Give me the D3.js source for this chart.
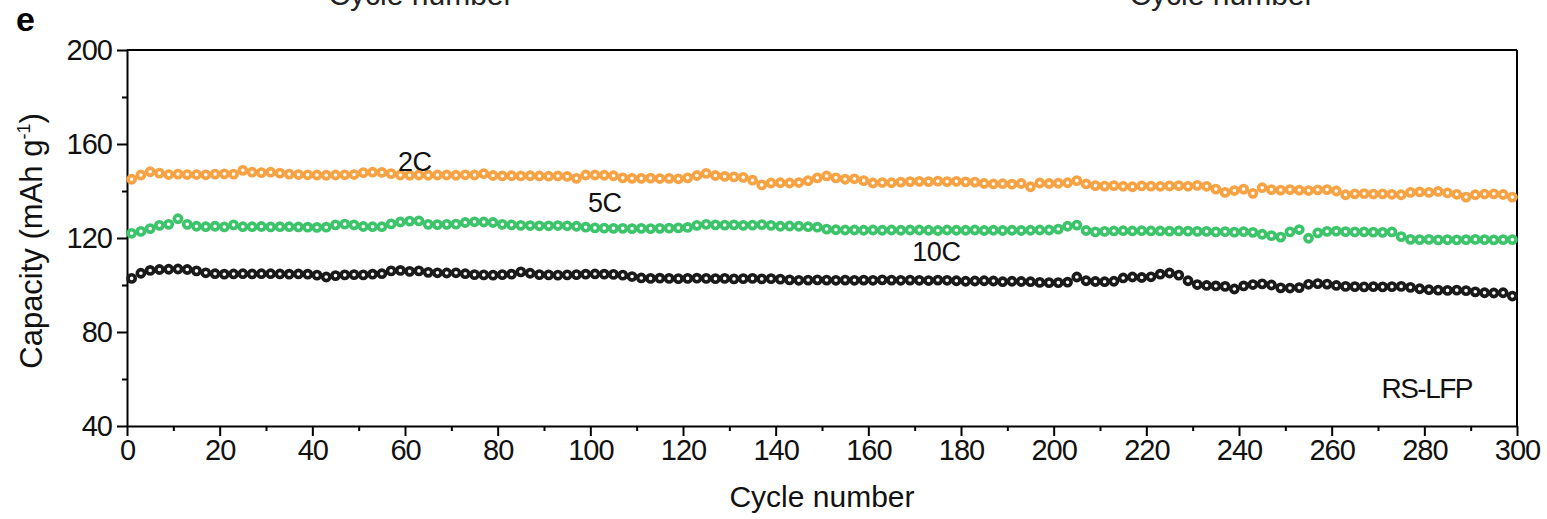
<!DOCTYPE html>
<html>
<head>
<meta charset="utf-8">
<script src="https://cdn.jsdelivr.net/npm/d3@7"></script>
<style>
  html, body { margin: 0; padding: 0; background: #fff; }
  svg { display: block; font-family: "Liberation Sans", Arial, sans-serif; }
</style>
</head>
<body>
<svg id="chart" width="1547" height="519"></svg>
<script>
// Cycle index of every plotted point (one marker every second cycle)
const cycles = d3.range(1, 300, 2);

// Discharge capacity (mAh g-1) of RS-LFP at 2C, 5C and 10C
const cap2C = [
  145.0, 146.8, 148.2, 147.6, 147.0, 147.2, 147.0, 147.0, 146.9, 147.2,
  147.3, 147.2, 148.8, 148.0, 147.8, 148.0, 147.6, 147.2, 147.0, 146.9,
  146.8, 146.7, 146.8, 146.9, 147.0, 147.8, 148.0, 147.9, 147.4, 146.8,
  146.7, 146.8, 146.7, 146.8, 146.8, 146.7, 146.9, 146.8, 147.4, 146.6,
  146.4, 146.5, 146.4, 146.5, 146.4, 146.3, 146.4, 146.2, 145.4, 146.8,
  146.8, 146.7, 146.5, 145.6, 145.4, 145.4, 145.5, 145.3, 145.4, 145.2,
  145.6, 146.6, 147.5, 146.6, 146.2, 146.0, 145.8, 144.6, 142.6, 143.4,
  143.5, 143.4, 143.6, 144.4, 145.6, 146.4, 145.6, 145.0, 145.2, 144.4,
  143.4, 143.6, 143.5, 143.8, 144.0, 144.1, 144.0, 144.2, 144.0, 144.1,
  143.9, 143.8, 143.2, 143.0, 143.1, 142.9, 143.2, 141.8, 143.4, 143.2,
  143.3, 143.5, 144.4, 143.0, 142.3, 142.1, 142.3, 142.0, 141.8, 142.2,
  142.1, 142.0, 142.2, 142.3, 142.0, 142.4, 142.0, 140.8, 139.4, 140.2,
  140.8, 139.0, 141.4, 140.6, 140.4, 140.6, 140.4, 140.2, 140.5, 140.6,
  140.0, 138.4, 138.8, 138.9, 138.7, 138.8, 138.6, 138.4, 139.4, 139.6,
  139.4, 139.8, 139.2, 138.6, 137.4, 138.4, 138.7, 138.8, 138.5, 137.4
];

const cap5C = [
  122.0, 122.8, 124.0, 125.4, 125.8, 128.2, 125.8, 125.0, 124.8, 125.0,
  124.7, 125.6, 124.8, 124.8, 124.9, 124.7, 124.8, 124.8, 124.7, 124.6,
  124.5, 124.6, 125.6, 125.9, 125.6, 124.9, 124.8, 124.8, 126.0, 126.8,
  127.2, 127.3, 125.8, 125.7, 125.8, 125.9, 126.6, 126.9, 126.8, 126.6,
  125.8, 125.6, 125.4, 125.3, 125.2, 125.2, 125.3, 125.2, 125.0, 124.6,
  124.3, 124.2, 124.1, 124.1, 124.0, 124.1, 124.0, 124.1, 124.2, 124.3,
  124.5, 125.4, 125.8, 125.6, 125.5, 125.6, 125.4, 125.5, 125.7, 125.4,
  125.0, 125.1, 125.0, 124.8, 124.6, 123.8, 123.5, 123.4, 123.4, 123.3,
  123.4, 123.3, 123.4, 123.3, 123.4, 123.4, 123.3, 123.2, 123.4, 123.3,
  123.3, 123.4, 123.2, 123.3, 123.2, 123.3, 123.2, 123.3, 123.4, 123.4,
  123.8, 125.0, 125.5, 123.2, 122.6, 122.8, 123.0, 123.1, 123.0, 123.1,
  123.0, 123.0, 122.9, 123.0, 122.9, 122.8, 122.8, 122.6, 122.7, 122.5,
  122.7, 122.4, 121.6, 121.0, 120.4, 122.6, 123.6, 119.9, 122.2, 122.8,
  122.9, 122.7, 122.6, 122.6, 122.5, 122.4, 122.6, 120.6, 119.4, 119.3,
  119.4, 119.2, 119.3, 119.2, 119.3, 119.4, 119.3, 119.2, 119.3, 119.3
];

const cap10C = [
  102.8, 105.0, 106.2, 106.6, 106.7, 106.8, 106.6, 106.0, 105.2, 104.8,
  104.6, 104.7, 104.8, 104.7, 104.8, 104.8, 104.7, 104.6, 104.7, 104.6,
  104.2, 103.4, 104.0, 104.3, 104.4, 104.3, 104.6, 104.8, 106.0, 106.2,
  105.8, 106.0, 105.4, 105.2, 105.1, 105.2, 104.8, 104.4, 104.3, 104.2,
  104.4, 104.6, 105.6, 105.0, 104.4, 104.3, 104.2, 104.3, 104.4, 104.6,
  104.7, 104.6, 104.5, 104.2, 103.6, 103.0, 102.8, 102.9, 102.8, 102.7,
  102.8, 102.9, 102.8, 102.7, 102.8, 102.6, 102.7, 102.8, 102.6, 102.7,
  102.5, 102.2, 102.0, 102.1, 102.2, 102.1, 102.0, 102.1, 102.0, 102.1,
  102.0, 102.2, 102.1, 102.0, 102.1, 102.0, 101.9, 102.1, 102.0, 101.8,
  101.6, 101.7, 101.8, 101.7, 101.4, 101.6, 101.5, 101.4, 101.1, 101.0,
  101.0, 101.2, 103.4, 101.8, 101.5, 101.4, 101.6, 103.0, 103.4, 103.2,
  103.5, 104.6, 105.1, 104.2, 101.8, 100.2, 99.8, 99.6, 99.4, 98.3,
  99.6, 100.2, 100.5, 100.0, 98.8, 98.7, 98.9, 100.3, 100.6, 100.4,
  99.8, 99.4, 99.3, 99.2, 99.3, 99.2, 99.3, 99.4, 99.0, 98.4,
  98.0, 97.8, 97.7, 97.8, 97.6, 97.1, 96.7, 96.6, 96.7, 95.3
];

const seriesNames = ["2C", "5C", "10C"];
const seriesColors = ["#f7a243", "#3cc46a", "#1a1a1a"];
const seriesValues = [cap2C, cap5C, cap10C];

const xTicks = d3.range(0, 301, 20);
const xMinorTicks = d3.range(10, 300, 20);
const yTicks = [40, 80, 120, 160, 200];
const yMinorTicks = [60, 100, 140, 180];

const svg = d3.select("#chart");
const margin = { left: 127, right: 30, top: 50, bottom: 93 };
const W = 1547, H = 519;
const x0 = margin.left, x1 = W - margin.right;
const y0 = H - margin.bottom, y1 = margin.top;

const x = d3.scaleLinear().domain([0, 300]).range([x0, x1]);
const y = d3.scaleLinear().domain([40, 200]).range([y0, y1]);

const axisW = 2;
const fontTick = 29;

// Titles of the panels above, cut off by the top edge
svg.append("text").attr("x", 421).attr("y", 5).attr("text-anchor", "middle")
  .attr("font-size", 30).attr("fill", "#222").text("Cycle number");
svg.append("text").attr("x", 1222).attr("y", 5).attr("text-anchor", "middle")
  .attr("font-size", 30).attr("fill", "#222").text("Cycle number");

// Panel letter
svg.append("text").attr("x", 16).attr("y", 31)
  .attr("font-size", 34).attr("font-weight", "bold").attr("fill", "#000").text("e");

// Frame: top and right edges
svg.append("line").attr("x1", x0).attr("x2", x1).attr("y1", y1).attr("y2", y1)
  .attr("stroke", "#000").attr("stroke-width", axisW);
svg.append("line").attr("x1", x1).attr("x2", x1).attr("y1", y1).attr("y2", y0)
  .attr("stroke", "#000").attr("stroke-width", axisW);

// Bottom axis
const gx = svg.append("g").attr("transform", `translate(0,${y0})`)
  .call(d3.axisBottom(x).tickValues(xTicks).tickSize(10).tickSizeOuter(0).tickPadding(3));
const gxMinor = svg.append("g").attr("transform", `translate(0,${y0})`)
  .call(d3.axisBottom(x).tickValues(xMinorTicks).tickSize(5).tickSizeOuter(0).tickFormat(""));

// Left axis
const gy = svg.append("g").attr("transform", `translate(${x0},0)`)
  .call(d3.axisLeft(y).tickValues(yTicks).tickSize(10).tickSizeOuter(0).tickPadding(5));
const gyMinor = svg.append("g").attr("transform", `translate(${x0},0)`)
  .call(d3.axisLeft(y).tickValues(yMinorTicks).tickSize(5).tickSizeOuter(0).tickFormat(""));

[gx, gxMinor, gy, gyMinor].forEach(g => {
  g.select(".domain").attr("stroke", "#000").attr("stroke-width", axisW);
  g.selectAll(".tick line").attr("stroke", "#000").attr("stroke-width", axisW);
  g.selectAll(".tick text").attr("font-size", fontTick).attr("fill", "#111")
    .attr("font-family", "'Liberation Sans', Arial, sans-serif").attr("letter-spacing", "-1px");
});
gxMinor.select(".domain").remove();
gyMinor.select(".domain").remove();

// Axis titles
svg.append("text").attr("x", (x0 + x1) / 2).attr("y", 507).attr("text-anchor", "middle")
  .attr("font-size", 30).attr("fill", "#111").text("Cycle number");

const yt = svg.append("text")
  .attr("transform", `translate(42,${(y0 + y1) / 2 + 3}) rotate(-90)`)
  .attr("text-anchor", "middle").attr("font-size", 31).attr("fill", "#111");
yt.append("tspan").text("Capacity (mAh g");
yt.append("tspan").attr("font-size", 18).attr("dy", -12).text("-1");
yt.append("tspan").attr("dy", 12).text(")");

// Data markers
seriesValues.forEach((vals, si) => {
  svg.append("g").selectAll("circle")
    .data(vals.map((v, i) => ({ c: cycles[i], v })))
    .join("circle")
    .attr("cx", d => x(d.c))
    .attr("cy", d => y(d.v))
    .attr("r", 3.6)
    .attr("fill", "#fff")
    .attr("stroke", seriesColors[si])
    .attr("stroke-width", 3.6);
});

// Series labels
const labelPos = [
  { c: 58.5, v: 148.5 },
  { c: 99.5, v: 131.2 },
  { c: 169.5, v: 110.3 }
];
seriesNames.forEach((name, i) => {
  svg.append("text").attr("x", x(labelPos[i].c)).attr("y", y(labelPos[i].v))
    .attr("font-size", 27).attr("fill", "#111").attr("letter-spacing", "-0.5px").text(name);
});

svg.append("text").attr("x", 1472).attr("y", 398).attr("text-anchor", "end")
  .attr("font-size", 28).attr("fill", "#111").attr("letter-spacing", "-1.5px").text("RS-LFP");
</script>
</body>
</html>
